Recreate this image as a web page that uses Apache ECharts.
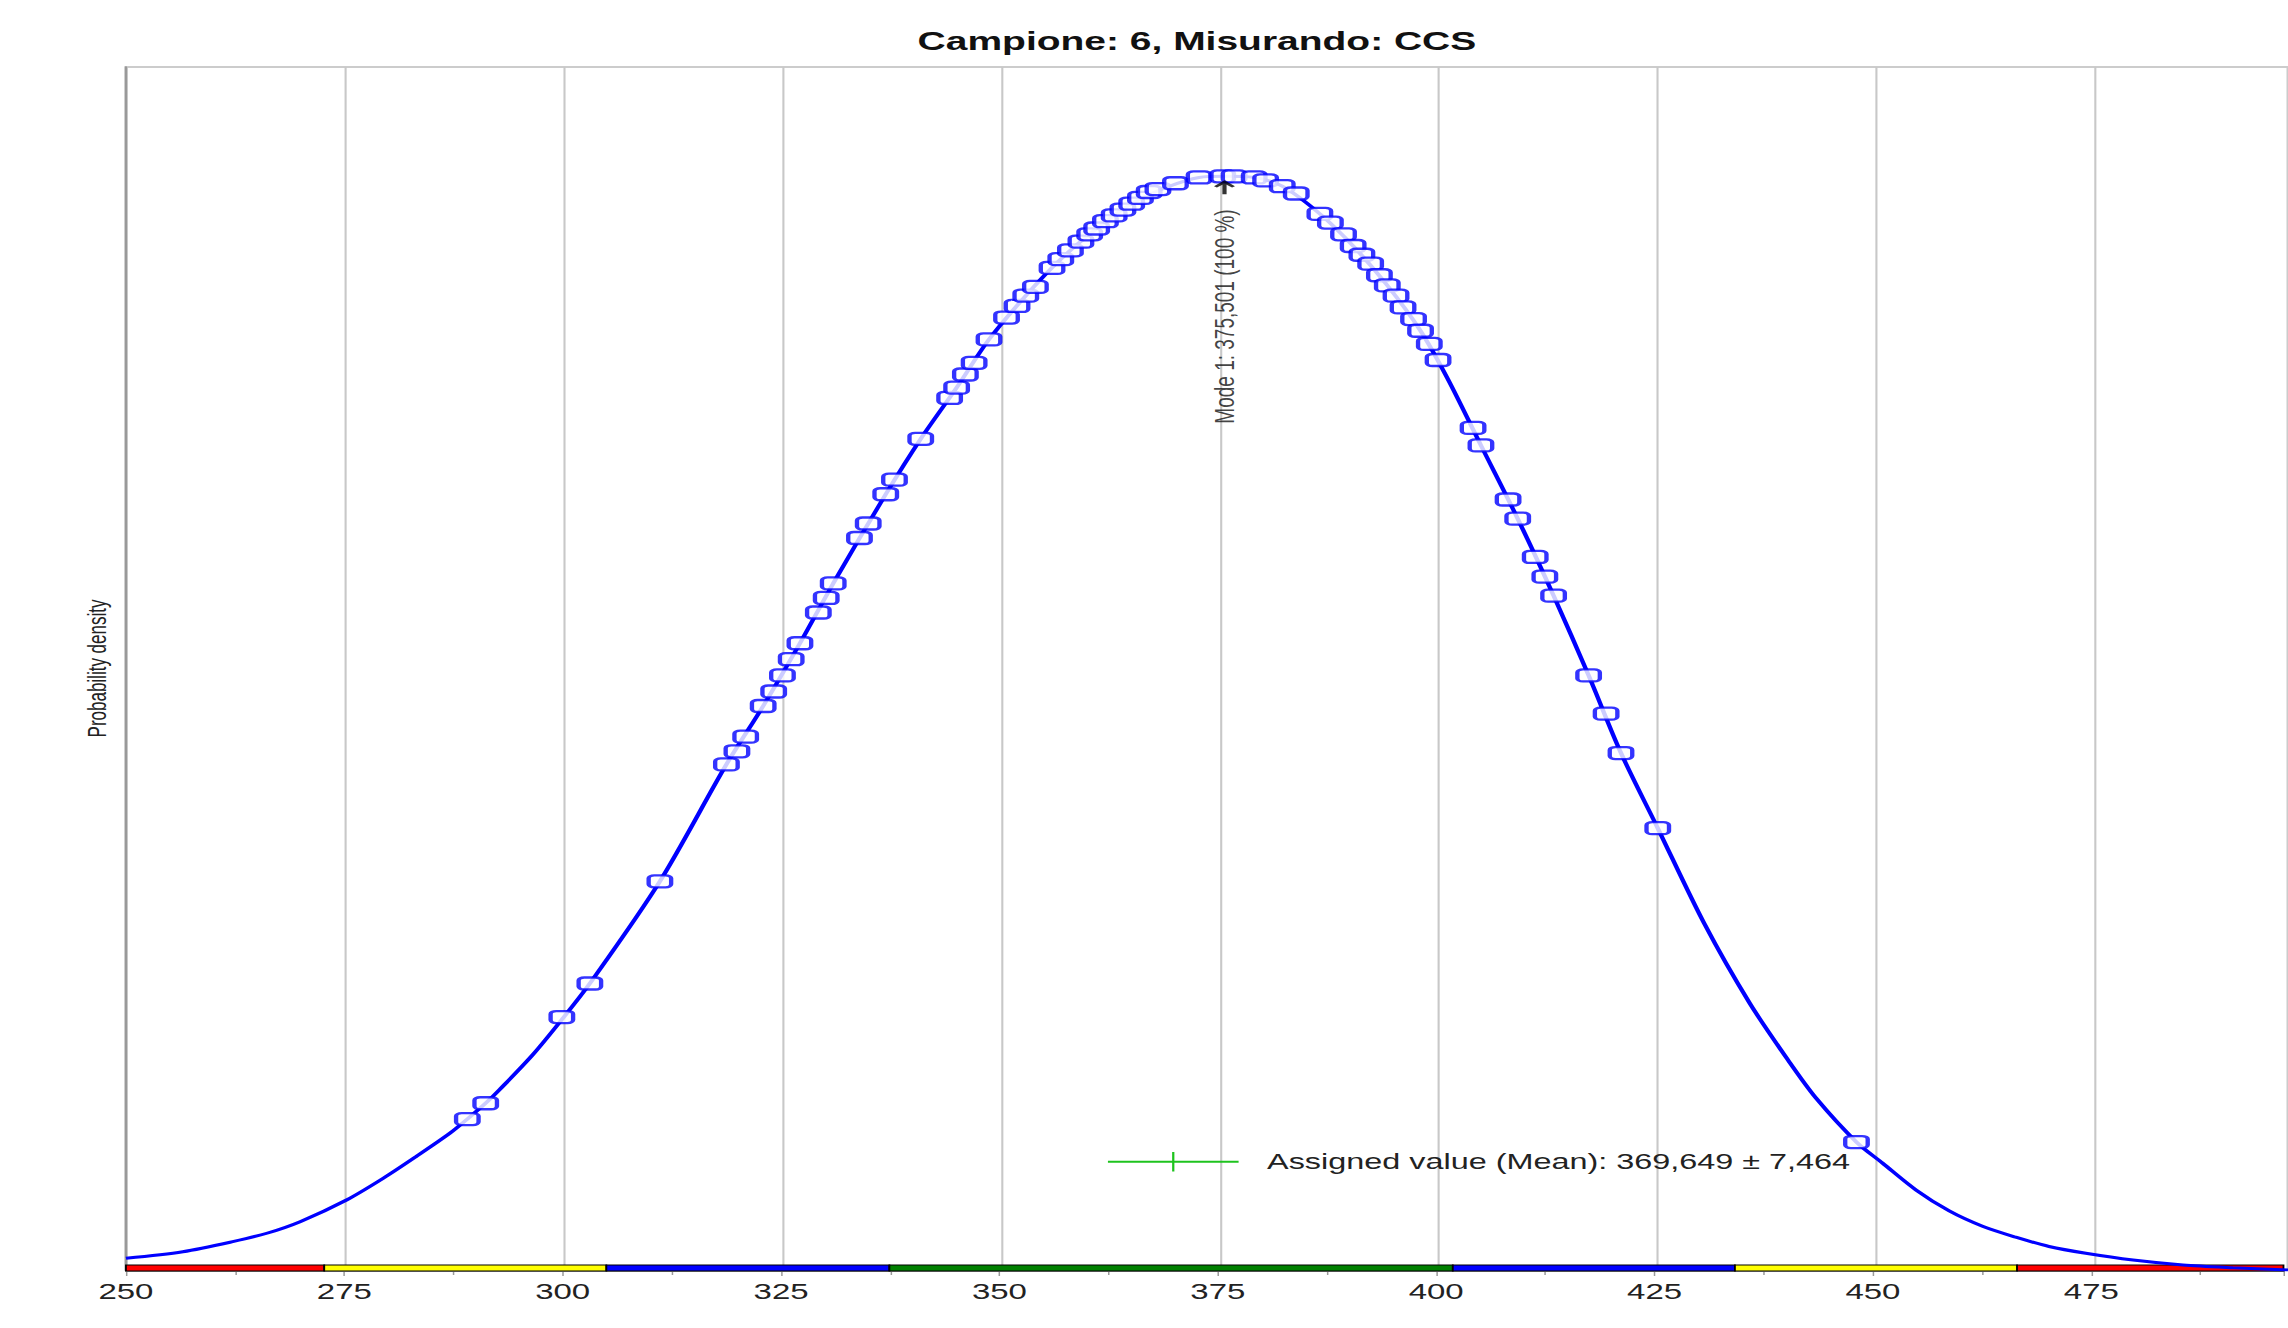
<!DOCTYPE html>
<html>
<head>
<meta charset="utf-8">
<title>Campione: 6, Misurando: CCS</title>
<script src="https://cdn.jsdelivr.net/npm/echarts@6/dist/echarts.min.js"></script>
<style>
  html, body { margin: 0; padding: 0; background: #fff; }
  #wrap { width: 2288px; height: 1328px; overflow: hidden; background: #fff; }
  /* the source picture is stretched sideways, so the chart is drawn narrow and scaled */
  #chart { width: 1526px; height: 1328px; transform: scaleX(1.49934); transform-origin: 0 0; }
</style>
</head>
<body>
<div id="wrap"><div id="chart"></div></div>
<script>
// density curve (relative to the mode)
let curveX = [250, 256.5, 262.2, 266.1, 269.9, 275.2, 279.4, 283.2, 287.0, 289.0, 291.1, 292.7, 296.5, 300.0, 303.0, 311.0, 318.6, 322.8, 327.0, 330.8, 336.8, 340.8, 344.9, 348.6, 352.8, 356.8, 360.9, 364.9, 368.9, 372.6, 375.5, 378.9, 382.1, 386.4, 390.2, 394.1, 397.9, 401.0, 404.8, 409.0, 413.1, 417.1, 420.8, 425.0, 430.3, 435.5, 440.0, 443.1, 447.7, 450.7, 454.5, 458.3, 462.1, 465.9, 469.7, 473.9, 479.3, 485.0, 490.7, 497];
let curveY = [0.0107, 0.0167, 0.0259, 0.0336, 0.0442, 0.064, 0.0839, 0.104, 0.125, 0.138, 0.1525, 0.165, 0.197, 0.231, 0.262, 0.3554, 0.4623, 0.5157, 0.5731, 0.6278, 0.7093, 0.76, 0.8068, 0.8509, 0.8909, 0.9243, 0.9523, 0.975, 0.990, 0.999, 1.0, 0.999, 0.991, 0.9657, 0.9363, 0.9003, 0.8588, 0.815, 0.754, 0.687, 0.6166, 0.5437, 0.4727, 0.404, 0.317, 0.244, 0.1906, 0.157, 0.117, 0.0976, 0.0732, 0.054, 0.040, 0.030, 0.0215, 0.0153, 0.0091, 0.0046, 0.0021, 0.0];

// participants' results (open markers on the curve)
let resultX = [289.0, 291.1, 299.8, 303.0, 311.0, 318.6, 319.8, 320.8, 322.8, 324.0, 325.0, 326.0, 327.0, 329.1, 330.0, 330.8, 333.8, 334.8, 336.8, 337.8, 340.8, 344.1, 344.9, 345.9, 346.9, 348.6, 350.6, 351.8, 352.8, 353.9, 355.8, 356.8, 357.9, 359.1, 360.1, 360.9, 361.9, 362.9, 363.9, 364.9, 365.9, 366.9, 367.9, 369.9, 372.6, 375.3, 376.6, 378.9, 380.2, 382.1, 383.7, 386.4, 387.6, 389.1, 390.2, 391.2, 392.2, 393.2, 394.1, 395.1, 395.9, 397.1, 397.9, 398.9, 399.9, 403.9, 404.8, 407.9, 409.0, 411.0, 412.1, 413.1, 417.1, 419.1, 420.8, 425.0, 447.7];
let resultY = [0.138, 0.1525, 0.2313, 0.262, 0.3554, 0.4623, 0.4743, 0.4877, 0.5157, 0.529, 0.5437, 0.5585, 0.5731, 0.6012, 0.6145, 0.6278, 0.6693, 0.6826, 0.7093, 0.7227, 0.76, 0.7974, 0.8068, 0.8188, 0.8295, 0.8509, 0.8709, 0.8815, 0.8909, 0.8989, 0.9163, 0.9243, 0.9323, 0.9403, 0.947, 0.9523, 0.959, 0.9643, 0.9696, 0.975, 0.9803, 0.9857, 0.9884, 0.9937, 0.999, 1.0, 1.0, 0.999, 0.9963, 0.991, 0.9843, 0.9657, 0.9577, 0.947, 0.9363, 0.9283, 0.9202, 0.9096, 0.9003, 0.8909, 0.8802, 0.8695, 0.8588, 0.8468, 0.8321, 0.770, 0.754, 0.7045, 0.687, 0.652, 0.634, 0.6166, 0.5437, 0.5087, 0.4727, 0.404, 0.117];

// assigned value and mode
let assignedMean = 369.649;
let assignedU = 7.464;
let assignedLevel = 0.099;
let assignedText = 'Assigned value (Mean): 369,649 ± 7,464';
let modeValue = 375.501;
let modeArrowY = 0.99;
let modeText = 'Mode 1: 375,501 (100 %)';

// score bands under the axis
let bandEdges = [250, 272.7, 305.0, 337.4, 401.9, 434.2, 466.5, 497];
let bandColors = ['#ff0000', '#ffff00', '#0000ff', '#008000', '#0000ff', '#ffff00', '#ff0000'];

let xTicks = { min: 250, max: 497, interval: 25 };

let chart = echarts.init(document.getElementById('chart'), null, { renderer: 'svg' });

let zip = (a, b) => a.map((v, i) => [v, b[i]]);
let bands = bandColors.map((c, i) => [bandEdges[i], bandEdges[i + 1], i]);

let option = {
  animation: false,
  backgroundColor: '#ffffff',
  textStyle: { fontFamily: 'Liberation Sans, Arial, sans-serif' },
  title: {
    text: 'Campione: 6, Misurando: CCS',
    left: 607,
    top: 23,
    textStyle: { fontSize: 26, fontWeight: 'bold', color: '#111', fontFamily: 'Liberation Sans, Arial, sans-serif' }
  },
  grid: [
    { left: 84, right: 0, top: 67, bottom: 58, show: true, borderColor: '#cccccc', borderWidth: 2, backgroundColor: 'transparent' },
    { left: 84, right: 0, top: 1265, height: 6 }
  ],
  xAxis: [
    {
      gridIndex: 0, type: 'value', min: xTicks.min, max: xTicks.max, interval: xTicks.interval,
      axisLine: { show: false }, axisTick: { show: false }, axisLabel: { show: false },
      splitLine: { show: true, lineStyle: { color: '#c8c8c8', width: 1.4 } }
    },
    {
      gridIndex: 1, type: 'value', min: xTicks.min, max: xTicks.max, interval: xTicks.interval,
      axisLine: { show: true, lineStyle: { color: '#9a9a9a', width: 1 } },
      axisTick: { show: true, length: 5, lineStyle: { color: '#9a9a9a', width: 1 } },
      minorTick: { show: true, splitNumber: 2, length: 4, lineStyle: { color: '#9a9a9a', width: 1 } },
      splitLine: { show: false },
      axisLabel: {
        fontSize: 22, color: '#222', margin: 10,
        formatter: v => (v % 25 === 0 ? String(v) : '')
      }
    }
  ],
  yAxis: [
    {
      gridIndex: 0, type: 'value', min: 0, max: 1.1,
      axisLine: { show: true, lineStyle: { color: '#999999', width: 1.6 } },
      axisTick: { show: false }, axisLabel: { show: false }, splitLine: { show: false },
      name: 'Probability density', nameLocation: 'middle', nameGap: 11,
      nameTextStyle: { fontSize: 17, color: '#222' }
    },
    { gridIndex: 1, type: 'value', min: 0, max: 1, show: false }
  ],
  series: [
    {
      name: 'density', type: 'line', xAxisIndex: 0, yAxisIndex: 0,
      data: zip(curveX, curveY), showSymbol: false, smooth: 0.3,
      lineStyle: { color: '#0000ff', width: 3 }, z: 3
    },
    {
      name: 'results', type: 'scatter', xAxisIndex: 0, yAxisIndex: 0,
      data: zip(resultX, resultY), symbol: 'roundRect', symbolSize: [15, 12],
      itemStyle: { color: '#ffffff', borderColor: '#0000ff', borderWidth: 2.6 }, z: 4
    },
    {
      name: 'assigned', type: 'line', xAxisIndex: 0, yAxisIndex: 0,
      data: [[assignedMean - assignedU, assignedLevel], [assignedMean + assignedU, assignedLevel]],
      showSymbol: false, lineStyle: { color: '#1ec31e', width: 2 },
      endLabel: { show: true, formatter: assignedText, distance: 19, fontSize: 21.6, color: '#222' }, z: 5
    },
    {
      name: 'assigned tick', type: 'line', xAxisIndex: 0, yAxisIndex: 0,
      data: [[assignedMean, assignedLevel - 0.009], [assignedMean, assignedLevel + 0.009]],
      showSymbol: false, lineStyle: { color: '#1ec31e', width: 1.5 }, z: 5
    },
    {
      name: 'mode', type: 'scatter', xAxisIndex: 0, yAxisIndex: 0,
      data: [[modeValue, modeArrowY]],
      symbol: 'path://M5,0 L10,5.5 L8.6,6.8 L6,4.2 L6,13 L4,13 L4,4.2 L1.4,6.8 L0,5.5 Z',
      symbolSize: [14, 14], itemStyle: { color: '#000' },
      label: {
        show: true, formatter: modeText, position: 'bottom', distance: 15, rotate: 90,
        align: 'right', verticalAlign: 'middle', fontSize: 19, color: '#111'
      },
      z: 6
    },
    {
      name: 'bands', type: 'custom', xAxisIndex: 1, yAxisIndex: 1, data: bands,
      renderItem: function (params, api) {
        let a = api.coord([api.value(0), 0]);
        let b = api.coord([api.value(1), 1]);
        return {
          type: 'rect',
          shape: { x: a[0], y: b[1], width: b[0] - a[0], height: a[1] - b[1] },
          style: { fill: bandColors[api.value(2)], stroke: '#000', lineWidth: 1.2 }
        };
      },
      z: 2
    }
  ]
};

chart.setOption(option);
</script>
</body>
</html>
